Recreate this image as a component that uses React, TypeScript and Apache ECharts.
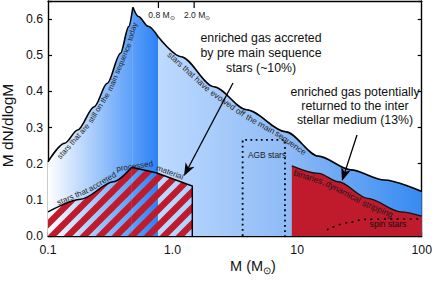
import React, { useEffect, useRef } from 'react';
import * as echarts from 'echarts';

// ---------------- data ----------------
const massTicks = [0.1, 1, 10, 100];
const massTickLabels = ['0.1', '1.0', '10', '100'];

// upper envelope, rising branch: stars still on the main sequence
const msRiseMass = [0.1, 0.136, 0.173, 0.235, 0.299, 0.382, 0.444, 0.48];
const msRiseValue = [0.2055, 0.2564, 0.2932, 0.3577, 0.4224, 0.5054, 0.579, 0.6326];
// upper envelope, falling branch up to the 0.8 Msun boundary
const msFallMass = [0.48, 0.532, 0.638, 0.766];
const msFallValue = [0.6326, 0.607, 0.58, 0.551];
// upper envelope: stars that have evolved off the main sequence
const evMass = [0.766, 1.169, 2.145, 3.93, 8.13, 14.8, 27.0, 50.0, 100];
const evValue = [0.551, 0.496, 0.413, 0.349, 0.288, 0.221, 0.183, 0.155, 0.123];
// stars that accreted processed material (hatched)
const accRiseMass = [0.1, 0.183, 0.336, 0.469];
const accRiseValue = [0.067, 0.1015, 0.15, 0.19];
const accFallMass = [0.469, 0.738, 1.44, 1.44];
const accFallValue = [0.19, 0.175, 0.138, 0];
// binaries, dynamical stripping (solid red)
const binMass = [9.06, 14.9, 21.4, 36.9, 67.8, 100];
const binValue = [0.194, 0.173, 0.15, 0.104, 0.067, 0.055];
// AGB stars box
const agbMass = [3.65, 3.65, 7.98, 7.98];
const agbValue = [0, 0.266, 0.266, 0];
// spin stars
const spinMass = [17.3, 25.7, 34.8, 60, 100];
const spinValue = [0.017, 0.037, 0.046, 0.047, 0.047];
// top markers
const markerMass = [0.77, 1.49];
const markerLabels = ['0.8', '2.0'];

const FONT = '"Liberation Sans", Arial, Helvetica, sans-serif';
const RED = '#bf1b2c';

const pairs = (xs: number[], ys: number[]) => xs.map((x, i) => [x, ys[i]]);

function makeHatch(): HTMLCanvasElement {
  const s = 16;
  const c = document.createElement('canvas');
  c.width = s;
  c.height = s;
  const ctx = c.getContext('2d')!;
  ctx.strokeStyle = RED;
  ctx.lineWidth = 6.4;
  for (const k of [-s, 0, s]) {
    ctx.beginPath();
    ctx.moveTo(k - 3, s + 3);
    ctx.lineTo(k + s + 3, -3);
    ctx.stroke();
  }
  return c;
}

const measureCtx = (() => {
  const c = document.createElement('canvas');
  return c.getContext('2d')!;
})();
function textWidth(t: string, size: number) {
  measureCtx.font = `${size}px ${FONT}`;
  return measureCtx.measureText(t).width;
}

function curvedText(pts: number[][], chunks: string[], s0: number, offset: number, size: number, fill: string) {
  const L = [0];
  for (let i = 1; i < pts.length; i++) {
    L.push(L[i - 1] + Math.hypot(pts[i][0] - pts[i - 1][0], pts[i][1] - pts[i - 1][1]));
  }
  const at = (s: number) => {
    const total = L[L.length - 1];
    const ss = Math.max(0, Math.min(total, s));
    let i = 0;
    while (i < L.length - 2 && L[i + 1] < ss) i++;
    const seg = L[i + 1] - L[i] || 1;
    const t = (ss - L[i]) / seg;
    return [pts[i][0] + (pts[i + 1][0] - pts[i][0]) * t, pts[i][1] + (pts[i + 1][1] - pts[i][1]) * t];
  };
  const space = textWidth(' ', size);
  const els: any[] = [];
  let s = s0;
  for (const chunk of chunks) {
    const w = textWidth(chunk, size);
    const a = at(s);
    const b = at(s + w);
    const m = at(s + w / 2);
    const dx = b[0] - a[0];
    const dy = b[1] - a[1];
    const len = Math.hypot(dx, dy) || 1;
    const nx = -dy / len;
    const ny = dx / len;
    const cx = (m[0] + (a[0] + b[0]) / 2) / 2 + nx * offset;
    const cy = (m[1] + (a[1] + b[1]) / 2) / 2 + ny * offset;
    els.push({
      type: 'text',
      x: cx,
      y: cy,
      rotation: -Math.atan2(dy, dx),
      z: 100,
      silent: true,
      style: {
        text: chunk,
        font: `${size}px ${FONT}`,
        fill,
        align: 'center',
        verticalAlign: 'middle',
        textAlign: 'center',
        textVerticalAlign: 'middle',
      },
    });
    s += w + space;
  }
  return els;
}

function arrow(x1: number, y1: number, x2: number, y2: number, headLen: number, headW: number) {
  const len = Math.hypot(x2 - x1, y2 - y1);
  const ux = (x2 - x1) / len;
  const uy = (y2 - y1) / len;
  const px = -uy;
  const py = ux;
  const bx = x2 - ux * headLen;
  const by = y2 - uy * headLen;
  const nxp = x2 - ux * headLen * 0.72;
  const nyp = y2 - uy * headLen * 0.72;
  return [
    {
      type: 'line',
      z: 100,
      silent: true,
      shape: { x1, y1, x2: nxp, y2: nyp },
      style: { stroke: '#000', lineWidth: 1.3 },
    },
    {
      type: 'polygon',
      z: 100,
      silent: true,
      shape: {
        points: [
          [x2, y2],
          [bx + px * headW, by + py * headW],
          [nxp, nyp],
          [bx - px * headW, by - py * headW],
        ],
      },
      style: { fill: '#000' },
    },
  ];
}

function tickLabel(v: number) {
  for (let i = 0; i < massTicks.length; i++) {
    if (Math.abs(Math.log10(v) - Math.log10(massTicks[i])) < 1e-6) return massTickLabels[i];
  }
  return '';
}

export default function App() {
  const ref = useRef<HTMLDivElement>(null);
  useEffect(() => {
    if (!ref.current) return;
    const chart = echarts.init(ref.current, null, { renderer: 'svg' });
    const hatch = makeHatch();
    const axisLineStyle = { color: '#000', width: 1.4 };

    const baseSeries = {
      type: 'line',
      showSymbol: false,
      symbol: 'none',
      silent: true,
      emphasis: { disabled: true },
    };
    const smoothCfg = { smooth: 0.3, smoothMonotone: 'x' };

    const option: any = {
      animation: false,
      backgroundColor: '#fff',
      grid: { left: 48, right: 7, top: 1, bottom: 45 },
      xAxis: [
        {
          type: 'log',
          logBase: 10,
          min: 0.1,
          max: 100,
          position: 'bottom',
          axisLine: { show: true, onZero: false, lineStyle: axisLineStyle },
          axisTick: { show: true, inside: true, length: 4, lineStyle: { color: '#000', width: 1.2 } },
          minorTick: { show: false },
          axisLabel: {
            color: '#111',
            fontSize: 12.3,
            fontFamily: FONT,
            margin: 8,
            formatter: (v: number) => tickLabel(v),
          },
          splitLine: { show: false },
        },
        {
          type: 'log',
          logBase: 10,
          min: 0.1,
          max: 100,
          position: 'top',
          axisLine: { show: true, onZero: false, lineStyle: axisLineStyle },
          axisTick: { show: false },
          axisLabel: { show: false },
          splitLine: { show: false },
        },
      ],
      yAxis: [
        {
          type: 'value',
          min: 0,
          max: 0.65,
          interval: 0.1,
          position: 'left',
          axisLine: { show: true, onZero: false, lineStyle: axisLineStyle },
          axisTick: { show: true, inside: true, length: 4, lineStyle: { color: '#000', width: 1.2 } },
          axisLabel: {
            color: '#111',
            fontSize: 12.3,
            fontFamily: FONT,
            margin: 5,
            formatter: (v: number) => (v > 0.605 ? '' : v.toFixed(1)),
          },
          splitLine: { show: false },
        },
        {
          type: 'value',
          min: 0,
          max: 0.65,
          interval: 0.1,
          position: 'right',
          axisLine: { show: true, onZero: false, lineStyle: axisLineStyle },
          axisTick: { show: true, inside: true, length: 4, lineStyle: { color: '#000', width: 1.2 } },
          axisLabel: { show: false },
          splitLine: { show: false },
        },
      ],
      series: [
        {
          ...baseSeries,
          ...smoothCfg,
          id: 'msRise',
          name: 'stars that are still on the main sequence today',
          data: pairs(msRiseMass, msRiseValue),
          z: 2,
          lineStyle: { color: '#000', width: 1.6 },
          areaStyle: { opacity: 1, color: '#9cc4f8' },
        },
        {
          ...baseSeries,
          ...smoothCfg,
          id: 'msFall',
          name: 'main sequence (falling)',
          data: pairs(msFallMass, msFallValue),
          z: 2,
          lineStyle: { color: '#000', width: 1.6 },
          areaStyle: { opacity: 1, color: '#2a82f6' },
        },
        {
          ...baseSeries,
          ...smoothCfg,
          id: 'evolved',
          name: 'stars that have evolved off the main sequence',
          data: pairs(evMass, evValue),
          z: 2,
          lineStyle: { color: '#000', width: 1.6 },
          areaStyle: { opacity: 1, color: '#8dbaf6' },
        },
        {
          ...baseSeries,
          ...smoothCfg,
          id: 'binaries',
          name: 'binaries, dynamical stripping',
          data: pairs(binMass, binValue),
          z: 3,
          lineStyle: { color: '#111', width: 1.3 },
          areaStyle: { opacity: 1, color: RED },
        },
        {
          ...baseSeries,
          ...smoothCfg,
          id: 'accRise',
          name: 'stars that accreted processed material',
          data: pairs(accRiseMass, accRiseValue),
          z: 4,
          lineStyle: { color: '#000', width: 1.4 },
          areaStyle: { opacity: 1, color: { image: hatch, repeat: 'repeat' } },
        },
        {
          ...baseSeries,
          id: 'accFall',
          name: 'accreted (falling)',
          data: pairs(accFallMass, accFallValue),
          z: 4,
          lineStyle: { color: '#000', width: 1.4, join: 'miter' },
          areaStyle: { opacity: 1, color: { image: hatch, repeat: 'repeat' } },
        },
        {
          ...baseSeries,
          id: 'agb',
          name: 'AGB stars',
          data: pairs(agbMass, agbValue),
          z: 5,
          lineStyle: { color: '#000', width: 1.8, type: [1.8, 3.4] },
        },
        {
          ...baseSeries,
          ...smoothCfg,
          id: 'spin',
          name: 'spin stars',
          data: pairs(spinMass, spinValue),
          z: 5,
          lineStyle: { color: '#000', width: 1.6, type: [2, 4.5] },
        },
      ],
    };

    chart.setOption(option);

    const toPx = (m: number, v: number) =>
      chart.convertToPixel({ xAxisIndex: 0, yAxisIndex: 0 }, [m, v]) as number[];
    const toPts = (xs: number[], ys: number[]) => xs.map((x, i) => toPx(x, ys[i]));

    // global horizontal gradients, positioned through the axis scale
    const xLeft = toPx(msRiseMass[0], 0)[0];
    const xMid = toPx(msFallMass[msFallMass.length - 1], 0)[0];
    const xRight = toPx(evMass[evMass.length - 1], 0)[0];
    const leftGrad = new echarts.graphic.LinearGradient(
      xLeft, 0, xMid, 0,
      [
        { offset: 0, color: '#ffffff' },
        { offset: 1, color: '#2a82f6' },
      ],
      true,
    );
    const rightGrad = new echarts.graphic.LinearGradient(
      xMid, 0, xRight, 0,
      [
        { offset: 0, color: '#bddaff' },
        { offset: 0.5, color: '#8dbaf6' },
        { offset: 1, color: '#368af1' },
      ],
      true,
    );

    const msPts = toPts(msRiseMass, msRiseValue);
    const evPts = toPts(evMass, evValue);
    const accPts = toPts(accRiseMass, accRiseValue).concat(
      toPts(accFallMass.slice(1, -1), accFallValue.slice(1, -1)),
    );
    const binPts = toPts(binMass, binValue);

    const labelFill = '#262626';
    const elements: any[] = [];

    elements.push(
      ...curvedText(msPts, ['stars that are', 'still on the', 'main sequence', 'today'], 10, 5, 7.6, labelFill),
      ...curvedText(evPts, ['stars that have', 'evolved off', 'the main', 'sequence'], 19, 5.5, 8.3, labelFill),
      ...curvedText(accPts, ['stars that', 'accreted', 'processed', 'material'], 12, -5, 8, labelFill),
      ...curvedText(binPts, ['binaries,', 'dynamical', 'stripping'], 4, 6, 8.6, '#1a1a1a'),
    );

    // top marker ticks + labels
    markerMass.forEach((m, i) => {
      const p = toPx(m, 0.65);
      elements.push({
        type: 'line',
        z: 100,
        silent: true,
        shape: { x1: p[0], y1: p[1], x2: p[0], y2: p[1] + 7 },
        style: { stroke: '#000', lineWidth: 1.2 },
      });
      elements.push({
        type: 'text',
        z: 100,
        silent: true,
        x: p[0] + 3,
        y: p[1] + 14,
        style: {
          text: `${markerLabels[i]} M{s|⊙}`,
          font: `8.5px ${FONT}`,
          fill: '#222',
          lineHeight: 12,
          align: 'center',
          verticalAlign: 'middle',
          textAlign: 'center',
          textVerticalAlign: 'middle',
          rich: { s: { fontSize: 6, lineHeight: 6, verticalAlign: 'bottom', fill: '#222', fontFamily: FONT } },
        },
      });
    });

    const plain = (text: string, x: number, y: number, size: number, extra: any = {}) => ({
      type: 'text',
      z: 100,
      silent: true,
      x,
      y,
      ...(extra.rotation !== undefined ? { rotation: extra.rotation } : {}),
      style: {
        text,
        font: `${size}px ${FONT}`,
        fill: extra.fill || '#111',
        lineHeight: extra.lineHeight,
        align: 'center',
        verticalAlign: 'middle',
        textAlign: 'center',
        textVerticalAlign: 'middle',
        ...(extra.rich ? { rich: extra.rich } : {}),
      },
    });

    elements.push(
      plain('enriched gas accreted\nby pre main sequence\nstars (~10%)', 261, 53, 12.3, { lineHeight: 15 }),
      plain('enriched gas potentially\nreturned to the inter\nstellar medium (13%)', 355, 105.5, 12.3, { lineHeight: 14 }),
      plain('AGB stars', 267, 155, 8.4, { fill: '#222' }),
      plain('spin stars', 388, 224, 8.6, { fill: '#111' }),
      plain('M dN/dlogM', 7.5, 125.5, 15.5, { rotation: Math.PI / 2 }),
      plain('M (M{s|⊙}{a|)}', 253, 266, 14.5, {
        lineHeight: 18,
        rich: {
          s: { fontSize: 9.5, lineHeight: 9.5, verticalAlign: 'bottom', fontFamily: FONT, fill: '#111' },
          a: { fontSize: 14.5, lineHeight: 18, fontFamily: FONT, fill: '#111' },
        },
      }),
    );

    elements.push(...arrow(233, 83, 184, 176, 13, 5));
    elements.push(...arrow(357, 135, 342, 181, 13, 5));

    chart.setOption({
      series: [
        { id: 'msRise', areaStyle: { color: leftGrad } },
        { id: 'msFall', areaStyle: { color: leftGrad } },
        { id: 'evolved', areaStyle: { color: rightGrad } },
      ],
      graphic: { elements },
    });

    return () => chart.dispose();
  }, []);

  return (
    <div
      ref={ref}
      style={{ position: 'fixed', left: 0, top: 0, width: 435, height: 281, background: '#fff' }}
    />
  );
}
